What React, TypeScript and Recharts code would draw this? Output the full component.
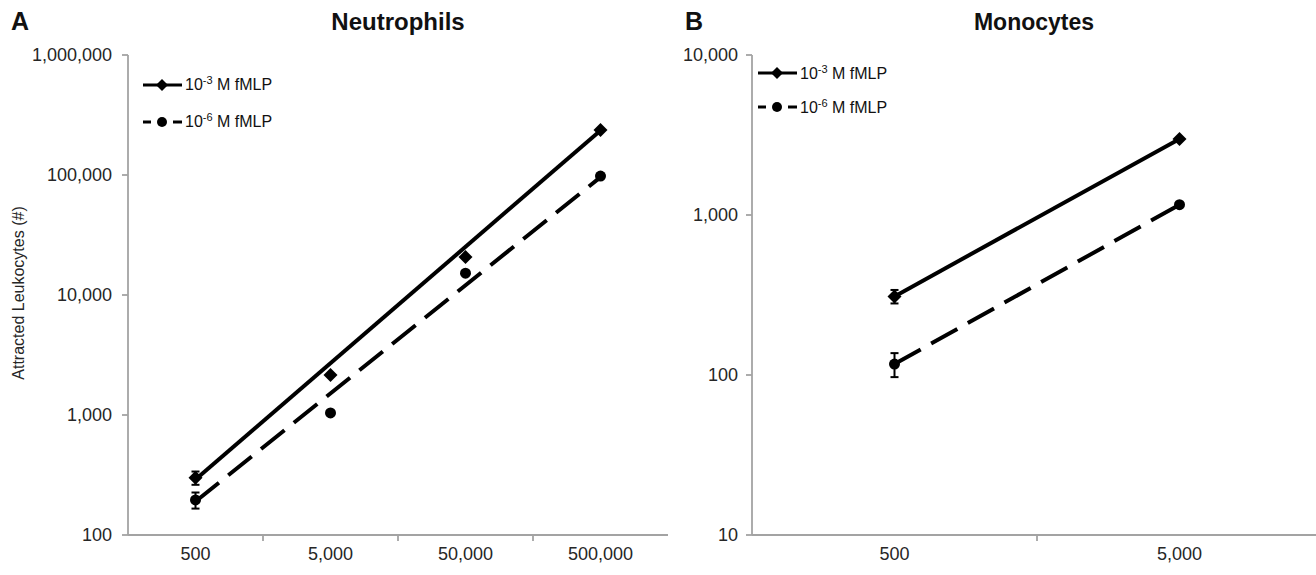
import React from "react";
import { ComposedChart, Line, XAxis, YAxis, ErrorBar, Legend } from "recharts";

// Panel A: neutrophils
const catsA = ["500", "5,000", "50,000", "500,000"];
const neut3 = [300, 2150, 20700, 237000];
const neut6 = [196, 1040, 15200, 98000];
const neut3Err = [38, null, null, null];
const neut6Err = [30, null, null, null];
const neut3Trend = [290, null, null, 235000];
const neut6Trend = [190, null, null, 96000];
const ticksA = [100, 1000, 10000, 100000, 1000000];

// Panel B: monocytes
const catsB = ["500", "5,000"];
const mono3 = [310, 2990];
const mono6 = [117, 1160];
const mono3Err = [30, null];
const mono6Err = [20, null];
const ticksB = [10, 100, 1000, 10000];

const seriesNames = [
  { exp: "-3", dashed: false },
  { exp: "-6", dashed: true },
];

const AXIS = "#a3a3a3";
const INK = "#000";
const FONT = '"Liberation Sans", Arial, sans-serif';

const rowsA = catsA.map((cat, i) => ({
  cat,
  n3: neut3[i],
  n6: neut6[i],
  e3: neut3Err[i],
  e6: neut6Err[i],
  t3: neut3Trend[i],
  t6: neut6Trend[i],
}));

const rowsB = catsB.map((cat, i) => ({
  cat,
  m3: mono3[i],
  m6: mono6[i],
  e3: mono3Err[i],
  e6: mono6Err[i],
}));

const fmt = (v: number) => v.toLocaleString("en-US");

function Diamond(props: any) {
  const { cx, cy, index } = props;
  if (cx == null || cy == null) return <g key={index} />;
  const s = 7;
  return (
    <path
      key={index}
      d={`M${cx},${cy - s}L${cx + s},${cy}L${cx},${cy + s}L${cx - s},${cy}Z`}
      fill={INK}
    />
  );
}

function Dot(props: any) {
  const { cx, cy, index } = props;
  if (cx == null || cy == null) return <g key={index} />;
  return <circle key={index} cx={cx} cy={cy} r={5.5} fill={INK} />;
}

function CatTick(props: any) {
  const { x, y, payload, index, band } = props;
  return (
    <g>
      {index > 0 && (
        <line
          x1={x - band / 2}
          x2={x - band / 2}
          y1={y - 8}
          y2={y - 2}
          stroke={AXIS}
          strokeWidth={1.8}
        />
      )}
      <text
        x={x}
        y={y + 17}
        textAnchor="middle"
        fontSize={18}
        fill="#262626"
        fontFamily={FONT}
      >
        {payload.value}
      </text>
    </g>
  );
}

function LegendBox({ rowH }: { rowH: number }) {
  return (
    <div style={{ fontFamily: FONT, fontSize: 16, color: "#111" }}>
      {seriesNames.map((s) => (
        <div
          key={s.exp}
          style={{ height: rowH, display: "flex", alignItems: "center" }}
        >
          <svg width={40} height={14} style={{ marginRight: 2 }}>
            {s.dashed ? (
              <>
                <line x1={0} x2={8} y1={7} y2={7} stroke={INK} strokeWidth={3} />
                <line x1={30} x2={39} y1={7} y2={7} stroke={INK} strokeWidth={3} />
                <circle cx={19} cy={7} r={5} fill={INK} />
              </>
            ) : (
              <>
                <line x1={0} x2={39} y1={7} y2={7} stroke={INK} strokeWidth={3} />
                <path d="M19,1L25,7L19,13L13,7Z" fill={INK} />
              </>
            )}
          </svg>
          <span>
            10<sup style={{ fontSize: 11 }}>{s.exp}</sup> M fMLP
          </span>
        </div>
      ))}
    </div>
  );
}

const yTick = { fontSize: 18, fill: "#262626", fontFamily: FONT };

export default function App() {
  return (
    <div
      style={{
        position: "absolute",
        left: 0,
        top: 0,
        width: 1316,
        height: 575,
        overflow: "hidden",
        background: "#fff",
        fontFamily: FONT,
      }}
    >
      <div style={{ position: "absolute", left: 0, top: 0 }}>
        <ComposedChart
          width={690}
          height={575}
          data={rowsA}
          margin={{ top: 55, right: 22, bottom: 0, left: 0 }}
        >
          <XAxis
            dataKey="cat"
            scale="band"
            height={40}
            stroke={AXIS}
            strokeWidth={1.8}
            tickLine={false}
            tickSize={6}
            tickMargin={2}
            interval={0}
            tick={<CatTick band={135} />}
          />
          <YAxis
            scale="log"
            type="number"
            domain={[100, 1000000]}
            ticks={ticksA}
            allowDataOverflow
            width={128}
            stroke={AXIS}
            strokeWidth={1.8}
            tickSize={6}
            tickMargin={10}
            tickFormatter={fmt}
            tick={yTick}
          />
          <Legend
            layout="horizontal"
            verticalAlign="middle"
            content={() => <LegendBox rowH={37} />}
            wrapperStyle={{ left: 143, top: 66, width: 200 }}
          />
          <Line
            dataKey="t3"
            connectNulls
            stroke={INK}
            strokeWidth={4}
            dot={false}
            isAnimationActive={false}
          />
          <Line
            dataKey="t6"
            connectNulls
            stroke={INK}
            strokeWidth={4}
            strokeDasharray="30 12"
            dot={false}
            isAnimationActive={false}
          />
          <Line
            dataKey="n3"
            stroke="none"
            dot={(p: any) => <Diamond {...p} key={p.index} />}
            isAnimationActive={false}
          >
            <ErrorBar dataKey="e3" width={4} strokeWidth={2} stroke={INK} />
          </Line>
          <Line
            dataKey="n6"
            stroke="none"
            dot={(p: any) => <Dot {...p} key={p.index} />}
            isAnimationActive={false}
          >
            <ErrorBar dataKey="e6" width={4} strokeWidth={2} stroke={INK} />
          </Line>
        </ComposedChart>
      </div>

      <div style={{ position: "absolute", left: 680, top: 0 }}>
        <ComposedChart
          width={650}
          height={575}
          data={rowsB}
          margin={{ top: 55, right: 8, bottom: 0, left: 0 }}
        >
          <XAxis
            dataKey="cat"
            scale="band"
            height={40}
            stroke={AXIS}
            strokeWidth={1.8}
            tickLine={false}
            tickSize={6}
            tickMargin={2}
            interval={0}
            tick={<CatTick band={285} />}
          />
          <YAxis
            scale="log"
            type="number"
            domain={[10, 10000]}
            ticks={ticksB}
            allowDataOverflow
            width={72}
            stroke={AXIS}
            strokeWidth={1.8}
            tickSize={6}
            tickMargin={8}
            tickFormatter={fmt}
            tick={yTick}
          />
          <Legend
            layout="horizontal"
            verticalAlign="middle"
            content={() => <LegendBox rowH={34} />}
            wrapperStyle={{ left: 78, top: 56, width: 200 }}
          />
          <Line
            dataKey="m3"
            stroke={INK}
            strokeWidth={4}
            dot={(p: any) => <Diamond {...p} key={p.index} />}
            isAnimationActive={false}
          >
            <ErrorBar dataKey="e3" width={4} strokeWidth={2} stroke={INK} />
          </Line>
          <Line
            dataKey="m6"
            stroke={INK}
            strokeWidth={4}
            strokeDasharray="30 12"
            dot={(p: any) => <Dot {...p} key={p.index} />}
            isAnimationActive={false}
          >
            <ErrorBar dataKey="e6" width={4} strokeWidth={2} stroke={INK} />
          </Line>
        </ComposedChart>
      </div>

      <svg
        width={1316}
        height={575}
        style={{ position: "absolute", left: 0, top: 0, pointerEvents: "none" }}
        fontFamily={FONT}
      >
        <text x={11} y={30} fontSize={25} fontWeight="bold" fill="#111">
          A
        </text>
        <text x={398} y={30} fontSize={24} fontWeight="bold" fill="#111" textAnchor="middle">
          Neutrophils
        </text>
        <text x={685} y={30} fontSize={25} fontWeight="bold" fill="#111">
          B
        </text>
        <text x={1034} y={30} fontSize={23} fontWeight="bold" fill="#111" textAnchor="middle">
          Monocytes
        </text>
        <text
          x={0}
          y={0}
          fontSize={16}
          fill="#262626"
          textAnchor="middle"
          transform="translate(24,293) rotate(-90)"
        >
          Attracted Leukocytes (#)
        </text>
      </svg>
    </div>
  );
}
